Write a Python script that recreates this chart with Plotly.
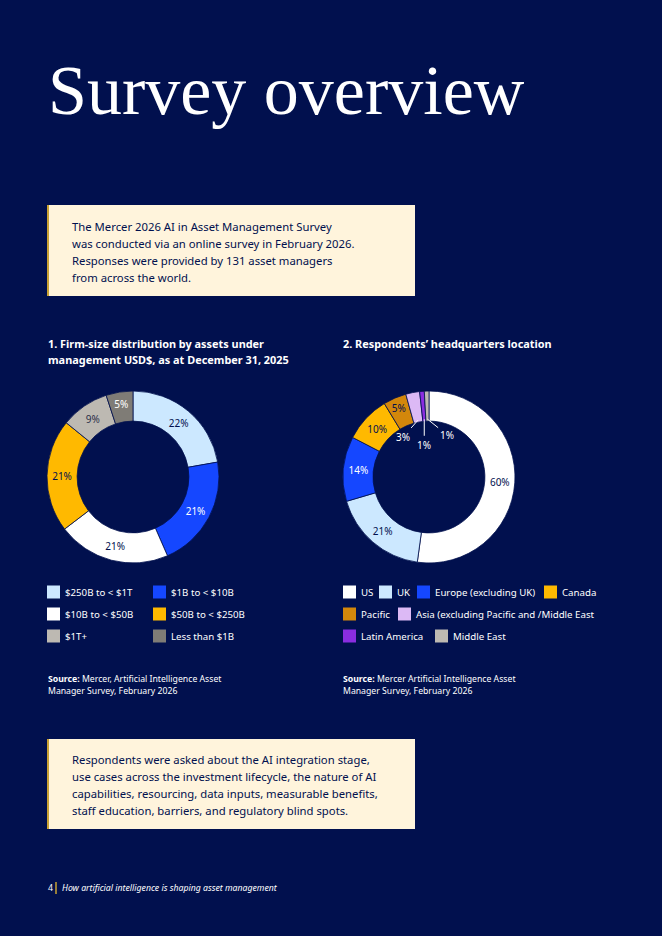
import math

import plotly.graph_objects as go

W, H = 662, 936
NAVY = "#01104e"
CREAM = "#fff4dc"
RULE_GOLD = "#c9a233"
SANS = "Noto Sans"
SERIF = "Liberation Serif"

# ---- data -----------------------------------------------------------------
TITLE = "Survey overview"

INTRO_LINES = [
    "The Mercer 2026 AI in Asset Management Survey",
    "was conducted via an online survey in February 2026.",
    "Responses were provided by 131 asset managers",
    "from across the world.",
]
OUTRO_LINES = [
    "Respondents were asked about the AI integration stage,",
    "use cases across the investment lifecycle, the nature of AI",
    "capabilities, resourcing, data inputs, measurable benefits,",
    "staff education, barriers, and regulatory blind spots.",
]

FIRM_TITLE = [
    "1. Firm-size distribution by assets under",
    "management USD$, as at December 31, 2025",
]
FIRM_LABELS = [
    "$250B to < $1T",
    "$1B to < $10B",
    "$10B to < $50B",
    "$50B to < $250B",
    "$1T+",
    "Less than $1B",
]
FIRM_PCT = [22, 21, 21, 21, 9, 5]
FIRM_COLORS = ["#cce8ff", "#1547ff", "#ffffff", "#ffb900", "#bdb9b2", "#7f7c76"]
FIRM_TEXT_COLORS = [NAVY, "#ffffff", NAVY, NAVY, "#2b2f4a", "#ffffff"]
FIRM_SOURCE = ["Mercer, Artificial Intelligence Asset", "Manager Survey, February 2026"]

HQ_TITLE = "2. Respondents\u2019 headquarters location"
HQ_LABELS = [
    "US",
    "UK",
    "Europe (excluding UK)",
    "Canada",
    "Pacific",
    "Asia (excluding Pacific and /Middle East",
    "Latin America",
    "Middle East",
]
HQ_PCT = [60, 21, 14, 10, 5, 3, 1, 1]
HQ_COLORS = ["#ffffff", "#cce8ff", "#1547ff", "#ffb900", "#d3870b", "#dcb9f5", "#8a2de0", "#bdb9b2"]
HQ_TEXT_COLORS = [NAVY, NAVY, "#ffffff", NAVY, NAVY, "#ffffff", "#ffffff", "#ffffff"]
HQ_SOURCE = ["Mercer Artificial Intelligence Asset", "Manager Survey, February 2026"]

FOOTER_PAGE = "4"
FOOTER_TEXT = "How artificial intelligence is shaping asset management"

# ---- layout constants -----------------------------------------------------
PIE_R = 86
HOLE = 0.65
PIE1_C = (133, 477)
PIE2_C = (429, 477)
SMALL_SLICE = 3  # slices at or below this share get a leader label in the hole
LEADER_OFFSETS = [(-15, 17), (0, 26), (20, 16)]

LEG1_X = [47, 153, 47, 153, 47, 153]
LEG1_ROW = [0, 0, 1, 1, 2, 2]
LEG2_X = [343, 379, 417, 544, 343, 398, 343, 435]
LEG2_ROW = [0, 0, 0, 0, 1, 1, 2, 2]
LEG_Y = [592, 614, 636]
SW = 13


def esc(s):
    return s.replace("<", "&lt;")


def domain(center):
    cx, cy = center
    return dict(
        x=[(cx - PIE_R) / W, (cx + PIE_R) / W],
        y=[1 - (cy + PIE_R) / H, 1 - (cy - PIE_R) / H],
    )


fig = go.Figure()

fig.add_trace(go.Pie(
    labels=FIRM_LABELS, values=FIRM_PCT, domain=domain(PIE1_C),
    hole=HOLE, sort=False, direction="clockwise", rotation=0,
    marker=dict(colors=FIRM_COLORS, line=dict(color=NAVY, width=0.8)),
    texttemplate="%{value}%", textposition="inside",
    insidetextorientation="horizontal",
    textfont=dict(family=SANS, size=10, color=FIRM_TEXT_COLORS),
    hoverinfo="skip", showlegend=False,
))

hq_pos = ["inside" if v > SMALL_SLICE else "none" for v in HQ_PCT]
fig.add_trace(go.Pie(
    labels=HQ_LABELS, values=HQ_PCT, domain=domain(PIE2_C),
    hole=HOLE, sort=False, direction="clockwise", rotation=0,
    marker=dict(colors=HQ_COLORS, line=dict(color=NAVY, width=0.8)),
    texttemplate="%{value}%", textposition=hq_pos,
    insidetextorientation="horizontal",
    textfont=dict(family=SANS, size=10, color=HQ_TEXT_COLORS),
    hoverinfo="skip", showlegend=False,
))

ann = []
shapes = []


def text(x, y, s, size, color="#ffffff", family=SANS, xanchor="left", **kw):
    ann.append(dict(
        x=x, y=y, xref="x", yref="y", text=s, showarrow=False,
        xanchor=xanchor, yanchor="middle",
        font=dict(family=family, size=size, color=color), **kw,
    ))


# title
text(46, 90, TITLE, 70, family=SERIF)

# cream boxes
for y0, y1, lines, first in [(205, 296, INTRO_LINES, 226), (739, 829, OUTRO_LINES, 759)]:
    shapes.append(dict(type="rect", xref="x", yref="y", x0=47, x1=415, y0=y0, y1=y1,
                       fillcolor=CREAM, line=dict(width=0), layer="below"))
    shapes.append(dict(type="line", xref="x", yref="y", x0=48, x1=48, y0=y0, y1=y1,
                       line=dict(color=RULE_GOLD, width=2)))
    for i, line in enumerate(lines):
        text(70, first + 17 * i, line, 11.3, color=NAVY)

# chart titles
for i, line in enumerate(FIRM_TITLE):
    text(46, 343 + 16 * i, "<b>%s</b>" % line, 10.9)
text(341, 343, "<b>%s</b>" % HQ_TITLE, 10.9)

# leader labels for the small headquarters slices
total = sum(HQ_PCT)
cum = 0
k = 0
for v in HQ_PCT:
    mid = (cum + v / 2) / total * 2 * math.pi
    cum += v
    if v > SMALL_SLICE:
        continue
    r = PIE_R * HOLE + 2
    tx = PIE2_C[0] + r * math.sin(mid)
    ty = PIE2_C[1] - r * math.cos(mid)
    ax, ay = LEADER_OFFSETS[k]
    k += 1
    ann.append(dict(
        x=tx, y=ty, xref="x", yref="y", ax=ax, ay=ay, axref="pixel", ayref="pixel",
        text="%d%%" % v, showarrow=True, arrowhead=0, arrowwidth=1,
        arrowcolor="#ffffff", standoff=0, startstandoff=1,
        font=dict(family=SANS, size=10, color="#ffffff"),
    ))


# legends
def legend(labels, colors, xs, rows):
    for lab, col, x, r in zip(labels, colors, xs, rows):
        y = LEG_Y[r]
        shapes.append(dict(type="rect", xref="x", yref="y", x0=x, x1=x + SW,
                           y0=y - SW / 2, y1=y + SW / 2, fillcolor=col, line=dict(width=0)))
        text(x + SW + 3, y, esc(lab), 9.7)


legend(FIRM_LABELS, FIRM_COLORS, LEG1_X, LEG1_ROW)
legend(HQ_LABELS, HQ_COLORS, LEG2_X, LEG2_ROW)

# sources
for x, src in [(46, FIRM_SOURCE), (341, HQ_SOURCE)]:
    text(x, 679, "<b>Source:</b> " + src[0], 8.7)
    text(x, 691, src[1], 8.7)

# footer
text(46, 888, FOOTER_PAGE, 8.7)
shapes.append(dict(type="line", xref="x", yref="y", x0=56, x1=56, y0=882, y1=894,
                   line=dict(color=RULE_GOLD, width=1.5)))
text(60, 888, "<i>%s</i>" % FOOTER_TEXT, 8.7)

fig.update_layout(
    width=W, height=H,
    margin=dict(l=0, r=0, t=0, b=0),
    paper_bgcolor=NAVY, plot_bgcolor=NAVY,
    xaxis=dict(range=[0, W], visible=False, fixedrange=True),
    yaxis=dict(range=[H, 0], visible=False, fixedrange=True),
    annotations=ann, shapes=shapes,
    showlegend=False,
    uniformtext=dict(minsize=10, mode="show"),
)

fig.write_html("out.html", config={"displayModeBar": False},
               post_script="document.body.style.margin='0px';")
